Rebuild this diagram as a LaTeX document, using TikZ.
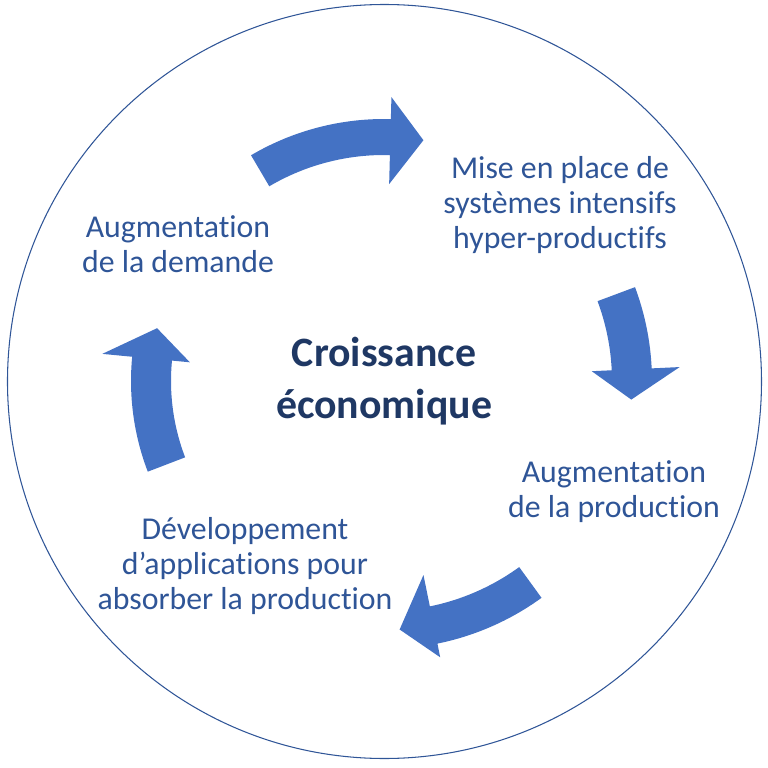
\documentclass[tikz,border=0pt]{standalone}
\usepackage{fontspec}
\setmainfont{Carlito}[Ligatures=NoCommon]
\usetikzlibrary{positioning}

\definecolor{arrowblue}{HTML}{4472C4}
\definecolor{labelblue}{HTML}{2F5597}
\definecolor{titlenavy}{HTML}{1F3864}

% curved block arrow round the centre:
% {tail angle}{head base angle}{tip angle}{inner r}{outer r}{head inner r}{head outer r}
\newcommand{\cyclearrow}[7]{%
	\fill[arrowfill] (#1:#5) arc[start angle=#1, end angle=#2, radius=#5]
	-- (#2:#7) -- (#3:{(#4+#5)/2}) -- (#2:#6) -- (#2:#4)
	arc[start angle=#2, end angle=#1, radius=#4] -- cycle;}

\begin{document}
\begin{tikzpicture}[
		x=0.02cm, y=0.02cm,
		arrowfill/.style={fill=arrowblue},
		step label/.style={align=center, text=labelblue, inner sep=0pt,
			font=\fontsize{18.1}{19.9}\selectfont},
		title label/.style={align=center, text=titlenavy, inner sep=0pt,
			font=\fontsize{23.8}{29.6}\selectfont\bfseries}
		]
		
		\useasboundingbox (-384,-387) rectangle (384,381);
		
		% Outer ring
		\draw[labelblue, line width=0.6pt] (0.5,-0.5) circle[radius=377];
		
		% Centre title
		\node[title label] (growth) at (0,0) {Croissance\\économique};
		
		% The four steps of the cycle
		\node[step label] (intensive) at (176,176) {Mise en place de\\systèmes intensifs\\hyper-productifs};
		\node[step label] (production) at (230,-110.5) {Augmentation\\de la production};
		\node[step label] (uses) at (-139,-185) {Développement\\d’applications pour\\absorber la production};
		\node[step label] (demand) at (-206,136.5) {Augmentation\\de la demande};
		
		% Curved arrows, clockwise
		\cyclearrow{120.5}{88.5}{80.7}{226}{262}{197}{284}
		\cyclearrow{20.5}{2.7}{-4.3}{228}{268}{208}{296}
		\cyclearrow{-54}{-78.5}{-86.4}{230}{268}{198}{282}
		\cyclearrow{201}{174.5}{166.9}{213}{253}{195}{283}
		
	\end{tikzpicture}
\end{document}
